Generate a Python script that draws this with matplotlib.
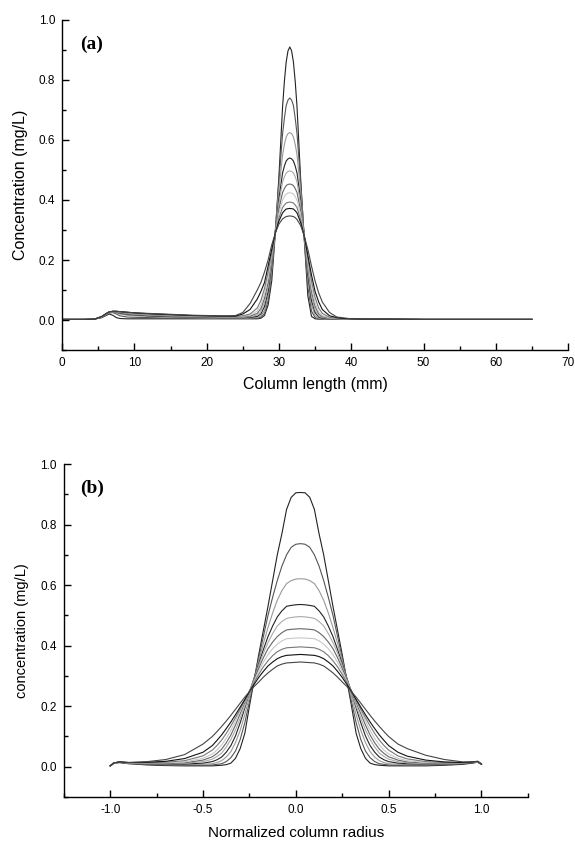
import matplotlib
matplotlib.use("Agg")
import matplotlib.pyplot as plt
from matplotlib.ticker import MultipleLocator

plt.rcParams['font.family'] = ['Liberation Sans', 'DejaVu Sans']
plt.rcParams['axes.unicode_minus'] = False

# ---- panel (a): concentration along the column ----
x_a = [0, 3, 4.5, 5.5, 6, 6.5, 7, 7.5, 8, 9, 10, 12, 14, 16, 18, 20, 22,
       23, 24, 25, 26, 27, 27.5, 28, 28.5, 29, 29.5, 30, 30.5, 30.75, 31, 31.25,
       31.5,
       31.75, 32, 32.25, 32.5, 33, 33.5, 34, 34.5, 35, 35.5, 36, 37, 38, 39, 40,
       42, 45, 50, 55, 60, 65]

conc_a = [
    [.002, .002, .003, .008, .014, .020, .016, .008, .005, .004, .004, .004, .004, .004, .004, .004, .004,
     .004, .004, .004, .004, .004, .006, .015, .05, .13, .29, .48, .71, .795, .86, .897,
     .91,
     .897, .86, .795, .71, .47, .27, .08, .012, .004, .003, .003, .003, .003, .003, .003,
     .003, .003, .002, .002, .002, .002],
    [.002, .002, .003, .009, .016, .023, .025, .020, .014, .010, .009, .008, .007, .007, .006, .006, .006,
     .006, .006, .006, .006, .006, .009, .022, .065, .155, .30, .465, .62, .672, .715, .733,
     .74,
     .733, .715, .672, .62, .46, .27, .11, .03, .008, .004, .003, .003, .003, .003, .003,
     .003, .003, .002, .002, .002, .002],
    [.002, .002, .003, .010, .017, .024, .027, .024, .020, .016, .014, .012, .010, .009, .008, .007, .007,
     .007, .007, .007, .007, .009, .013, .032, .08, .17, .30, .435, .55, .585, .61, .621,
     .625,
     .621, .61, .585, .55, .43, .28, .135, .05, .015, .006, .004, .003, .003, .003, .003,
     .003, .003, .002, .002, .002, .002],
    [.002, .002, .003, .010, .018, .025, .028, .026, .023, .019, .017, .014, .012, .011, .010, .009, .008,
     .008, .008, .008, .009, .012, .020, .045, .095, .185, .295, .405, .49, .513, .53, .537,
     .54,
     .537, .53, .513, .49, .40, .28, .15, .065, .025, .010, .006, .004, .003, .003, .003,
     .003, .003, .002, .002, .002, .002],
    [.002, .002, .003, .011, .018, .025, .028, .027, .025, .021, .019, .016, .014, .012, .011, .010, .009,
     .009, .009, .009, .011, .016, .028, .058, .11, .195, .295, .39, .46, .477, .49, .495,
     .497,
     .495, .49, .477, .46, .385, .28, .165, .08, .033, .014, .008, .005, .004, .003, .003,
     .003, .003, .002, .002, .002, .002],
    [.002, .002, .003, .011, .019, .026, .029, .028, .026, .023, .021, .018, .015, .013, .012, .011, .010,
     .010, .010, .011, .013, .022, .038, .072, .125, .205, .29, .37, .425, .438, .448, .452,
     .453,
     .452, .448, .438, .425, .365, .28, .18, .095, .045, .020, .011, .006, .004, .003, .003,
     .003, .003, .002, .002, .002, .002],
    [.002, .002, .003, .011, .019, .026, .029, .029, .027, .024, .022, .019, .017, .015, .013, .012, .011,
     .011, .011, .012, .016, .030, .050, .088, .14, .215, .29, .355, .40, .411, .42, .423,
     .424,
     .423, .42, .411, .40, .35, .28, .19, .11, .057, .028, .015, .007, .005, .004, .003,
     .003, .003, .002, .002, .002, .002],
    [.002, .002, .003, .012, .020, .027, .029, .029, .028, .025, .023, .020, .018, .016, .014, .013, .012,
     .012, .012, .014, .020, .040, .065, .105, .16, .225, .29, .34, .375, .383, .39, .392,
     .393,
     .392, .39, .383, .375, .335, .28, .205, .13, .075, .040, .022, .009, .006, .004, .003,
     .003, .003, .002, .002, .002, .002],
    [.002, .002, .003, .012, .020, .027, .029, .029, .028, .026, .024, .021, .019, .017, .015, .014, .013,
     .013, .013, .020, .035, .070, .095, .125, .18, .235, .29, .33, .357, .364, .37, .371,
     .372,
     .371, .37, .364, .357, .325, .28, .215, .15, .095, .060, .035, .014, .008, .005, .004,
     .003, .003, .002, .002, .002, .002],
    [.002, .002, .003, .012, .020, .027, .029, .029, .028, .026, .024, .022, .020, .018, .016, .015, .014,
     .014, .015, .025, .055, .100, .125, .16, .20, .25, .29, .32, .337, .341, .345, .346,
     .347,
     .346, .345, .341, .335, .315, .28, .235, .18, .13, .090, .060, .025, .010, .007, .004,
     .003, .003, .002, .002, .002, .002],
]

# ---- panel (b): concentration across the normalized radius ----
x_b = [-1.0, -0.98, -0.95, -0.9, -0.8, -0.7, -0.6, -0.5,
       -0.45, -0.425, -0.4, -0.375, -0.35, -0.325, -0.3, -0.275, -0.25, -0.225,
       -0.2, -0.175, -0.15, -0.125, -0.1, -0.075, -0.05, -0.025, 0.0,
       0.025,
       0.05, 0.075, 0.1, 0.125, 0.15, 0.175, 0.2, 0.225, 0.25, 0.275,
       0.3, 0.325, 0.35, 0.375, 0.4, 0.425, 0.45, 0.475, 0.5,
       0.55, 0.6, 0.7, 0.8, 0.9, 0.95, 0.98, 1.0]

conc_b = [
    [.003, .012, .014, .010, .006, .004, .003, .003,
     .003, .004, .005, .007, .012, .028, .06, .11, .20, .285, .37, .45, .53, .615, .70, .77, .85, .89, .905,
     .906,
     .905, .89, .85, .77, .70, .615, .53, .45, .37, .285, .20, .11, .06, .028, .012, .007, .005, .004, .003,
     .003, .003, .003, .005, .008, .012, .015, .008],
    [.003, .012, .014, .011, .008, .006, .005, .005,
     .006, .008, .010, .017, .03, .052, .09, .145, .215, .285, .36, .43, .50, .56, .615, .663, .70, .725, .735,
     .737,
     .735, .725, .70, .663, .615, .56, .50, .43, .36, .285, .215, .145, .09, .052, .03, .017, .010, .008, .006,
     .005, .005, .005, .007, .010, .013, .015, .008],
    [.003, .012, .015, .012, .009, .007, .007, .008,
     .010, .014, .020, .032, .05, .08, .12, .172, .23, .29, .35, .407, .46, .508, .55, .582, .605, .615, .62,
     .621,
     .62, .615, .605, .582, .55, .508, .46, .407, .35, .29, .23, .172, .12, .08, .05, .032, .020, .014, .010,
     .008, .007, .007, .008, .011, .014, .016, .008],
    [.003, .012, .015, .012, .010, .009, .009, .012,
     .017, .023, .032, .048, .07, .102, .145, .194, .245, .293, .34, .387, .43, .465, .495, .515, .53, .533, .535,
     .536,
     .535, .533, .53, .515, .495, .465, .43, .387, .34, .293, .245, .194, .145, .102, .07, .048, .032, .023, .017,
     .012, .010, .009, .009, .011, .014, .016, .008],
    [.003, .012, .015, .013, .011, .010, .011, .017,
     .025, .034, .045, .065, .09, .122, .16, .20, .245, .29, .335, .375, .41, .44, .465, .48, .49, .493, .495,
     .496,
     .495, .493, .49, .48, .465, .44, .41, .375, .335, .29, .245, .20, .16, .122, .09, .065, .045, .034, .025,
     .017, .013, .010, .010, .012, .015, .016, .008],
    [.003, .013, .015, .013, .012, .011, .013, .022,
     .033, .044, .058, .079, .105, .138, .175, .212, .25, .288, .325, .36, .39, .412, .43, .443, .452, .454, .455,
     .456,
     .455, .454, .452, .443, .43, .412, .39, .36, .325, .288, .25, .212, .175, .138, .105, .079, .058, .044, .033,
     .022, .016, .012, .011, .013, .015, .017, .008],
    [.003, .013, .015, .013, .013, .013, .016, .028,
     .042, .055, .072, .094, .12, .151, .185, .217, .25, .283, .315, .345, .37, .39, .405, .416, .423, .424, .425,
     .426,
     .425, .424, .423, .416, .405, .39, .37, .345, .315, .283, .25, .217, .185, .151, .12, .094, .072, .055, .042,
     .028, .020, .014, .013, .013, .015, .017, .009],
    [.003, .013, .016, .014, .014, .015, .020, .036,
     .055, .070, .088, .11, .135, .162, .19, .22, .25, .278, .305, .33, .35, .367, .38, .388, .393, .394, .395,
     .396,
     .395, .394, .393, .388, .38, .367, .35, .33, .305, .278, .25, .22, .19, .162, .135, .11, .088, .070, .055,
     .036, .026, .017, .014, .014, .015, .017, .009],
    [.003, .013, .016, .014, .015, .018, .027, .048,
     .070, .087, .105, .126, .148, .172, .197, .222, .248, .272, .295, .315, .333, .346, .357, .364, .368, .369, .37,
     .371,
     .37, .369, .368, .364, .357, .346, .333, .315, .295, .272, .248, .222, .197, .172, .148, .126, .105, .087, .070,
     .048, .035, .022, .016, .014, .016, .018, .009],
    [.003, .013, .016, .014, .017, .024, .040, .075,
     .10, .116, .133, .151, .17, .19, .21, .23, .248, .265, .28, .296, .31, .322, .333, .339, .343, .344, .345,
     .346,
     .345, .344, .343, .339, .333, .322, .31, .296, .28, .265, .248, .23, .21, .19, .17, .151, .133, .116, .10,
     .075, .060, .038, .024, .016, .016, .018, .009],
]

line_colors = ['#222222', '#555555', '#999999', '#222222', '#aaaaaa',
               '#666666', '#c8c8c8', '#777777', '#111111', '#444444']


def style_axes(ax):
    ax.spines['top'].set_visible(False)
    ax.spines['right'].set_visible(False)
    for s in ('left', 'bottom'):
        ax.spines[s].set_linewidth(1.0)
    ax.tick_params(which='major', direction='in', length=5, width=1.0, labelsize=8.5, pad=5)
    ax.tick_params(which='minor', direction='in', length=3, width=1.0)
    ax.yaxis.set_major_locator(MultipleLocator(0.2))
    ax.yaxis.set_minor_locator(MultipleLocator(0.1))
    ax.set_ylim(-0.1, 1.0)
    ax.yaxis.set_major_formatter(plt.FuncFormatter(lambda v, p: f"{v:.1f}"))


fig = plt.figure(figsize=(5.75, 8.42), dpi=100)

ax1 = fig.add_axes([0.108, 0.5843, 0.88, 0.392])
for ys, c in zip(conc_a, line_colors):
    ax1.plot(x_a, ys, color=c, lw=0.8)
style_axes(ax1)
ax1.set_xlim(0, 70)
ax1.xaxis.set_major_locator(MultipleLocator(10))
ax1.xaxis.set_minor_locator(MultipleLocator(5))
ax1.set_xlabel('Column length (mm)', fontsize=11.5, labelpad=6)
ax1.set_ylabel('Concentration (mg/L)', fontsize=11.5, labelpad=8)
ax1.text(2.5, 0.92, '(a)', family=['Liberation Serif', 'DejaVu Serif'],
         fontweight='bold', fontsize=14, va='center')

ax2 = fig.add_axes([0.111, 0.0534, 0.807, 0.3955])
for ys, c in zip(conc_b, line_colors):
    ax2.plot(x_b, ys, color=c, lw=0.8)
style_axes(ax2)
ax2.set_xlim(-1.25, 1.25)
ax2.xaxis.set_major_locator(MultipleLocator(0.5))
ax2.xaxis.set_minor_locator(MultipleLocator(0.25))
ax2.set_xlabel('Normalized column radius', fontsize=11, labelpad=7)
ax2.set_ylabel('concentration (mg/L)', fontsize=10.5, labelpad=8)
ax2.text(-1.16, 0.92, '(b)', family=['Liberation Serif', 'DejaVu Serif'],
         fontweight='bold', fontsize=14, va='center')

fig.savefig('out.png', dpi=100)
